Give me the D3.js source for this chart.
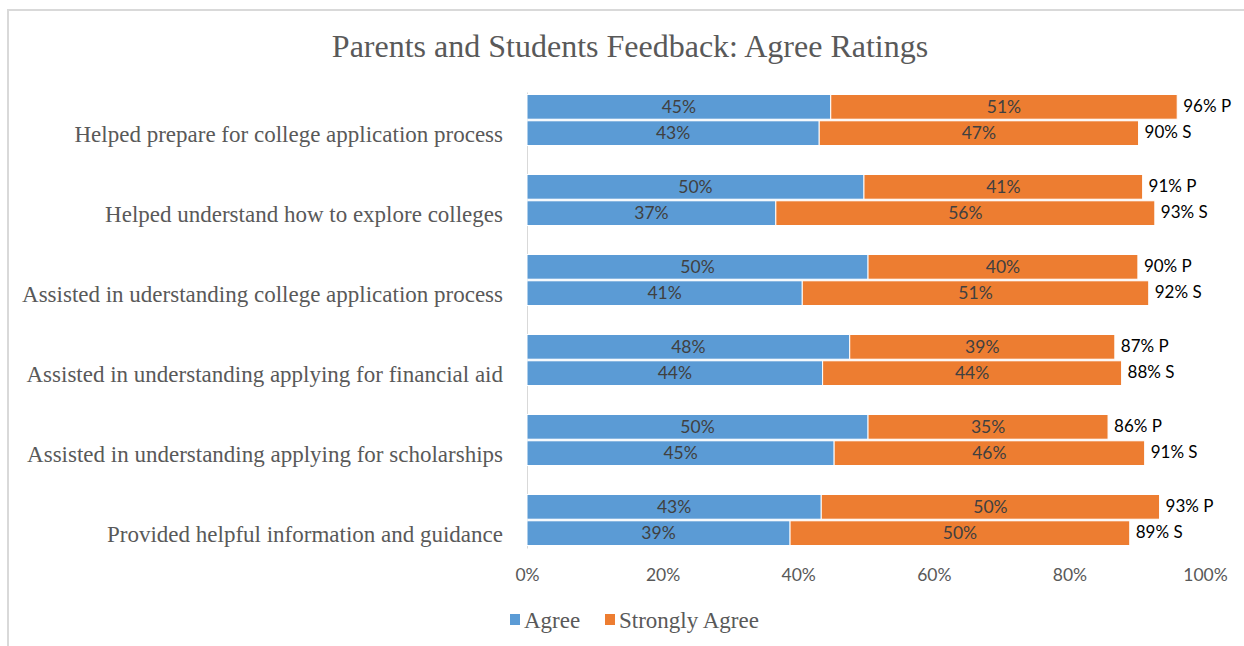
<!DOCTYPE html>
<html>
<head>
<meta charset="utf-8">
<script src="https://cdn.jsdelivr.net/npm/d3@7"></script>
<style>
  html, body { margin: 0; padding: 0; background: #fff; }
  svg { display: block; }
</style>
</head>
<body>
<svg id="chart" width="1244" height="646"></svg>
<script>
// ---- data ----
const title = "Parents and Students Feedback: Agree Ratings";
const categories = [
  "Helped prepare for college application process",
  "Helped understand how to explore colleges",
  "Assisted in uderstanding college application process",
  "Assisted in understanding applying for financial aid",
  "Assisted in understanding applying for scholarships",
  "Provided helpful information and guidance"
];
const groups = ["P", "S"];
const seriesNames = ["Agree", "Strongly Agree"];
// Parents (P)
const parentAgree         = [0.448, 0.497, 0.503, 0.476, 0.503, 0.434];
const parentStronglyAgree = [0.511, 0.411, 0.398, 0.391, 0.354, 0.499];
// Students (S)
const studentAgree         = [0.431, 0.367, 0.406, 0.436, 0.453, 0.388];
const studentStronglyAgree = [0.471, 0.559, 0.511, 0.441, 0.458, 0.501];
const xTicks = [0, 0.2, 0.4, 0.6, 0.8, 1.0];

const colors = ["#5B9BD5", "#ED7D31"];

// ---- build rows ----
const rows = [];
categories.forEach((c, i) => {
  rows.push({ cat: c, grp: "P", vals: [parentAgree[i], parentStronglyAgree[i]] });
  rows.push({ cat: c, grp: "S", vals: [studentAgree[i], studentStronglyAgree[i]] });
});

const svg = d3.select("#chart");
const serif = "'Liberation Serif', 'Times New Roman', serif";
const sans = "Lato, 'Liberation Sans', sans-serif";

// chart frame
svg.append("rect")
  .attr("x", 8).attr("y", 10)
  .attr("width", 1260).attr("height", 660)
  .attr("fill", "#fff").attr("stroke", "#d9d9d9").attr("stroke-width", 2);

// title
svg.append("text")
  .attr("x", 630).attr("y", 57)
  .attr("text-anchor", "middle")
  .attr("font-family", serif).attr("font-size", 32)
  .attr("fill", "#595959")
  .text(title);

const x = d3.scaleLinear().domain([0, 1]).range([527, 1205]);
const y = d3.scaleBand().domain(categories).range([92, 548])
  .paddingInner(0.3625).paddingOuter(0.03125);
const ySub = d3.scaleBand().domain(groups).range([0, y.bandwidth()]).paddingInner(0.06);

// x axis tick labels (no gridlines)
const xAxis = d3.axisBottom(x).tickValues(xTicks).tickFormat(d3.format(".0%")).tickSize(0);
const gx = svg.append("g").attr("transform", "translate(0,566)").call(xAxis);
gx.select(".domain").remove();
gx.selectAll("text")
  .attr("font-family", sans).attr("font-size", 17.5).attr("fill", "#595959");

// y axis
const yAxis = d3.axisLeft(y).tickSize(0).tickPadding(24);
const gy = svg.append("g").attr("transform", `translate(${x(0)},0)`).call(yAxis);
gy.select(".domain").attr("stroke", "#d9d9d9").attr("stroke-width", 1);
gy.selectAll(".tick").attr("transform", d => `translate(0,${y(d) + ySub("S") + ySub.bandwidth() / 2 + 1})`);
gy.selectAll("text")
  .attr("font-family", serif).attr("font-size", 23).attr("fill", "#595959");

// bars
const rowG = svg.append("g").selectAll("g").data(rows).join("g")
  .attr("transform", d => `translate(0,${y(d.cat) + ySub(d.grp)})`);

rowG.each(function (d) {
  const g = d3.select(this);
  let cum = 0;
  d.vals.forEach((v, k) => {
    g.append("rect")
      .attr("x", x(cum)).attr("y", 0)
      .attr("width", x(cum + v) - x(cum))
      .attr("height", ySub.bandwidth())
      .attr("fill", colors[k])
      .attr("stroke", "#fff").attr("stroke-width", 1);
    g.append("text")
      .attr("x", (x(cum) + x(cum + v)) / 2)
      .attr("y", ySub.bandwidth() / 2)
      .attr("dy", "0.36em")
      .attr("text-anchor", "middle")
      .attr("font-family", sans).attr("font-size", 17.5)
      .attr("fill", "#404040")
      .text(d3.format(".0%")(v));
    cum += v;
  });
  g.append("text")
    .attr("x", x(cum) + 6)
    .attr("y", ySub.bandwidth() / 2 - 1)
    .attr("dy", "0.36em")
    .attr("font-family", sans).attr("font-size", 17)
    .attr("fill", "#000")
    .text(d3.format(".0%")(cum) + " " + d.grp);
});

// legend
const legend = svg.append("g").attr("transform", "translate(510,620)");
const legX = [0, 95];
seriesNames.forEach((s, i) => {
  legend.append("rect")
    .attr("x", legX[i]).attr("y", -6).attr("width", 10).attr("height", 11)
    .attr("fill", colors[i]);
  legend.append("text")
    .attr("x", legX[i] + 14).attr("y", 0).attr("dy", "0.35em")
    .attr("font-family", serif).attr("font-size", 23).attr("fill", "#595959")
    .text(s);
});
</script>
</body>
</html>
